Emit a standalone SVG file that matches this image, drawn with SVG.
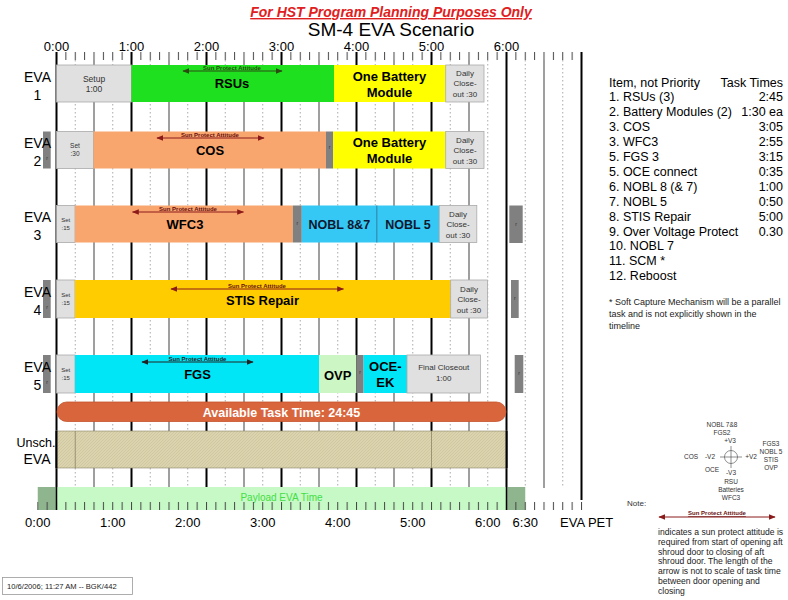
<svg xmlns="http://www.w3.org/2000/svg" width="788" height="600" viewBox="0 0 788 600">
<defs>
<style>
text{font-family:"Liberation Sans",Arial,sans-serif;fill:#000}
.ax{font-size:13px;text-anchor:middle}
.ev{font-size:14px;text-anchor:middle}
.big{font-size:13px;font-weight:bold;text-anchor:middle}
.sm{font-size:8px;text-anchor:middle;fill:#333}
.xs{font-size:6.5px;text-anchor:middle;fill:#333}
.sp{font-size:6px;font-weight:bold;text-anchor:middle}
.lst{font-size:12.5px}
.lr{font-size:12.5px;text-anchor:end}
.ft{font-size:9px;fill:#222}
.cp{font-size:6.5px;text-anchor:middle;fill:#333}
.gray{fill:#e0e0e0;stroke:#aaa;stroke-width:0.8}
.rb{fill:#808080}
.hr{stroke:#000;stroke-width:2}
.hh{stroke:#777;stroke-width:1.4}
.qt{stroke:#aaa;stroke-width:1;stroke-dasharray:1.5 2.5}
</style>
<pattern id="tk" x="56" y="0" width="9.375" height="10" patternUnits="userSpaceOnUse"><rect x="0" y="0" width="1" height="10" fill="#444"/></pattern>
<pattern id="tkb" x="37.25" y="0" width="9.375" height="10" patternUnits="userSpaceOnUse"><rect x="0" y="0" width="1" height="10" fill="#444"/></pattern>
<pattern id="hatch" width="3" height="3" patternUnits="userSpaceOnUse"><rect width="3" height="3" fill="#dad3ad"/><path d="M0,3 L3,0" stroke="#c9c199" stroke-width="0.6"/></pattern>
<marker id="arR" viewBox="0 0 10 10" refX="9" refY="5" markerWidth="7" markerHeight="7" orient="auto-start-reverse" markerUnits="userSpaceOnUse"><path d="M0,1 L10,5 L0,9 z" fill="#8b1a1a"/></marker>
<marker id="arG" viewBox="0 0 10 10" refX="9" refY="5" markerWidth="7" markerHeight="7" orient="auto-start-reverse" markerUnits="userSpaceOnUse"><path d="M0,1 L10,5 L0,9 z" fill="#2b4a12"/></marker>
<marker id="arK" viewBox="0 0 10 10" refX="9" refY="5" markerWidth="7" markerHeight="7" orient="auto-start-reverse" markerUnits="userSpaceOnUse"><path d="M0,1 L10,5 L0,9 z" fill="#222"/></marker>
</defs>
<rect width="788" height="600" fill="#fff"/>

<g id="titles">
<text x="391" y="17" style="font-size:14px;font-weight:bold;font-style:italic;text-decoration:underline;text-anchor:middle;fill:#e02020">For HST Program Planning Purposes Only</text>
<text x="391" y="35.5" style="font-size:19px;text-anchor:middle">SM-4 EVA Scenario</text>
</g>

<g id="top-axis">
<rect x="56" y="52" width="527" height="8" fill="url(#tk)"/>
<text class="ax" x="56.5" y="51">0:00</text>
<text class="ax" x="131.5" y="51">1:00</text>
<text class="ax" x="206.5" y="51">2:00</text>
<text class="ax" x="281.5" y="51">3:00</text>
<text class="ax" x="356.5" y="51">4:00</text>
<text class="ax" x="431.5" y="51">5:00</text>
<text class="ax" x="506.5" y="51">6:00</text>
</g>

<g id="grid">
<path class="qt" d="M75.25,60V487M112.75,60V487M150.25,60V487M187.75,60V487M225.25,60V487M262.75,60V487M300.25,60V487M337.75,60V487M375.25,60V487M412.75,60V487M450.25,60V487M487.75,60V487M525.25,60V487M562.75,60V488"/>
<path class="hh" d="M94,60V487M169,60V487M244,60V487M319,60V487M394,60V487M469,60V487M544,60V488"/>
<path class="hr" d="M56.5,52V487M131.5,52V487M206.5,52V487M281.5,52V487M356.5,52V487M431.5,52V487M506.5,52V487M581.5,52V500"/>
</g>

<g id="eva1">
<text class="ev" x="37.5" y="82">EVA</text><text class="ev" x="37.5" y="100">1</text>
<rect class="gray" x="56.5" y="65" width="75" height="37"/>
<text class="sm" x="94" y="82" style="font-size:8.5px">Setup</text><text class="sm" x="94" y="92" style="font-size:8.5px">1:00</text>
<rect x="131.5" y="65" width="202.5" height="37" fill="#1ee01e"/>
<line x1="183" y1="71" x2="282" y2="71" stroke="#2b4a12" stroke-width="1" marker-start="url(#arG)" marker-end="url(#arG)"/>
<text class="sp" x="232" y="70" style="fill:#2b4a12">Sun Protect Attitude</text>
<text class="big" x="232" y="88">RSUs</text>
<rect x="334" y="65" width="111.7" height="37" fill="#ffff00"/>
<text class="big" x="389.5" y="81">One Battery</text><text class="big" x="389.5" y="97">Module</text>
<rect class="gray" x="445.7" y="65" width="38.3" height="37"/>
<text class="sm" x="465" y="76">Daily</text><text class="sm" x="465" y="86">Close-</text><text class="sm" x="465" y="97">out :30</text>
</g>

<g id="eva2">
<rect class="rb" x="43" y="131.5" width="7.7" height="37"/>
<text class="xs" x="47" y="160" style="font-size:5px">r</text>
<text class="ev" x="37.5" y="148">EVA</text><text class="ev" x="37.5" y="166">2</text>
<rect class="gray" x="56.5" y="131.5" width="37.1" height="37"/>
<text class="xs" x="75" y="148">Set</text><text class="xs" x="75" y="156">:30</text>
<rect x="93.6" y="131.5" width="232.4" height="37" fill="#f8a56e"/>
<line x1="157" y1="138" x2="264" y2="138" stroke="#8b1a1a" stroke-width="1" marker-start="url(#arR)" marker-end="url(#arR)"/>
<text class="sp" x="210" y="137" style="fill:#6b1010">Sun Protect Attitude</text>
<text class="big" x="210" y="155">COS</text>
<rect class="rb" x="326" y="131.5" width="7.2" height="37"/>
<text class="xs" x="329.6" y="149" style="font-size:5px">r</text>
<rect x="333.2" y="131.5" width="112.5" height="37" fill="#ffff00"/>
<text class="big" x="389.5" y="147">One Battery</text><text class="big" x="389.5" y="163">Module</text>
<rect class="gray" x="445.7" y="131.5" width="38.3" height="37"/>
<text class="sm" x="465" y="142.5">Daily</text><text class="sm" x="465" y="152.5">Close-</text><text class="sm" x="465" y="163.5">out :30</text>
</g>

<g id="eva3">
<text class="ev" x="37.5" y="222">EVA</text><text class="ev" x="37.5" y="240">3</text>
<rect class="gray" x="56.5" y="205.5" width="18.5" height="37"/>
<text class="xs" x="65.7" y="222" style="font-size:6px">Set</text><text class="xs" x="65.7" y="230" style="font-size:6px">:15</text>
<rect x="75" y="205.5" width="217.9" height="37" fill="#f8a56e"/>
<line x1="132.5" y1="212" x2="243.5" y2="212" stroke="#8b1a1a" stroke-width="1" marker-start="url(#arR)" marker-end="url(#arR)"/>
<text class="sp" x="188" y="211" style="fill:#6b1010">Sun Protect Attitude</text>
<text class="big" x="185" y="229">WFC3</text>
<rect class="rb" x="292.9" y="205.5" width="8.9" height="37"/>
<text class="xs" x="297.3" y="225" style="font-size:5px">r</text>
<rect x="301.8" y="205.5" width="75" height="37" fill="#35c8f4"/>
<rect x="376.8" y="205.5" width="62.5" height="37" fill="#35c8f4"/>
<line x1="376.8" y1="205.5" x2="376.8" y2="242.5" stroke="#1a6a8a" stroke-width="0.8"/>
<text class="big" x="339.3" y="229" style="fill:#101830;font-size:12.5px">NOBL 8&amp;7</text>
<text class="big" x="408" y="229" style="fill:#101830;font-size:12.5px">NOBL 5</text>
<rect class="gray" x="439.3" y="205.5" width="37.5" height="37"/>
<text class="sm" x="458" y="217">Daily</text><text class="sm" x="458" y="227">Close-</text><text class="sm" x="458" y="238">out :30</text>
<rect class="rb" x="509.3" y="205.5" width="13.4" height="37.5"/>
<text class="xs" x="516" y="226" style="font-size:5px">r</text>
</g>

<g id="eva4">
<rect class="rb" x="43" y="280" width="7.7" height="38"/>
<text class="xs" x="47" y="309" style="font-size:5px">r</text>
<text class="ev" x="37.5" y="297">EVA</text><text class="ev" x="37.5" y="315">4</text>
<rect class="gray" x="56.5" y="280" width="18.5" height="38"/>
<text class="xs" x="65.7" y="297" style="font-size:6px">Set</text><text class="xs" x="65.7" y="305" style="font-size:6px">:15</text>
<rect x="75" y="280" width="375.7" height="38" fill="#ffcc00"/>
<line x1="171" y1="289" x2="343.5" y2="289" stroke="#8b1a1a" stroke-width="1" marker-start="url(#arR)" marker-end="url(#arR)"/>
<text class="sp" x="257" y="288" style="fill:#6b1010">Sun Protect Attitude</text>
<text class="big" x="262.5" y="305">STIS Repair</text>
<rect class="gray" x="450.7" y="280" width="36.8" height="38"/>
<text class="sm" x="469" y="292">Daily</text><text class="sm" x="469" y="302">Close-</text><text class="sm" x="469" y="313">out :30</text>
<rect class="rb" x="511" y="280" width="7.7" height="38"/>
<text class="xs" x="514.8" y="300" style="font-size:5px">r</text>
</g>

<g id="eva5">
<rect class="rb" x="43" y="355" width="7.7" height="38"/>
<text class="xs" x="47" y="384" style="font-size:5px">r</text>
<text class="ev" x="37.5" y="372">EVA</text><text class="ev" x="37.5" y="390">5</text>
<rect class="gray" x="56.5" y="355" width="18.5" height="38"/>
<text class="xs" x="65.7" y="372" style="font-size:6px">Set</text><text class="xs" x="65.7" y="380" style="font-size:6px">:15</text>
<rect x="75" y="355" width="244" height="38" fill="#00e6f6"/>
<line x1="142" y1="362" x2="253" y2="362" stroke="#222" stroke-width="1" marker-start="url(#arK)" marker-end="url(#arK)"/>
<text class="sp" x="197.5" y="361" style="fill:#222">Sun Protect Attitude</text>
<text class="big" x="197.5" y="379">FGS</text>
<rect x="319" y="355" width="37.4" height="38" fill="#ccf7c4"/>
<text class="big" x="337.7" y="380">OVP</text>
<rect class="rb" x="356.4" y="355" width="7.2" height="38"/>
<text class="xs" x="360" y="374" style="font-size:5px">r</text>
<rect x="363.6" y="355" width="43.4" height="38" fill="#00e6f6"/>
<text class="big" x="385.3" y="371">OCE-</text><text class="big" x="385.3" y="387">EK</text>
<rect class="gray" x="407" y="355" width="73.4" height="38"/>
<text class="sm" x="443.7" y="370">Final Closeout</text><text class="sm" x="443.7" y="381">1:00</text>
<rect class="rb" x="514.7" y="355" width="8.6" height="38"/>
<text class="xs" x="519" y="375" style="font-size:5px">r</text>
</g>

<g id="available">
<rect x="57" y="402" width="449" height="19.5" rx="9.7" fill="#d9653c" stroke="#c4532c" stroke-width="0.8"/>
<text x="281.5" y="416.5" style="font-size:12.5px;font-weight:bold;fill:#fff;text-anchor:middle">Available Task Time: 24:45</text>
</g>

<g id="unsch">
<text class="ev" x="36" y="447" style="font-size:12.5px">Unsch.</text><text class="ev" x="37" y="464">EVA</text>
<rect x="56.5" y="431" width="450" height="37" fill="url(#hatch)" stroke="#8a8468" stroke-width="0.6"/>
<path d="M75.25,431V468M431.5,431V468" stroke="#8a8468" stroke-width="0.8"/>
<path d="M56.5,431V468M506.5,431V468" stroke="#000" stroke-width="2"/>
</g>

<g id="payload">
<rect x="37.75" y="487" width="18.75" height="23" fill="#8fb58f"/>
<rect x="506.5" y="487" width="18.75" height="23" fill="#8fb58f"/>
<rect x="56.5" y="487" width="450" height="23" fill="#c6f9c6"/>
<text x="281.5" y="501" style="font-size:10px;fill:#44dd44;text-anchor:middle">Payload EVA Time</text>
<rect x="37.25" y="502" width="549" height="8" fill="url(#tkb)"/>
<path d="M56.5,487V510M506.5,487V510" stroke="#000" stroke-width="1.5"/>
</g>

<g id="bottom-axis">
<text class="ax" x="37.75" y="527">0:00</text>
<text class="ax" x="112.75" y="527">1:00</text>
<text class="ax" x="187.75" y="527">2:00</text>
<text class="ax" x="262.75" y="527">3:00</text>
<text class="ax" x="337.75" y="527">4:00</text>
<text class="ax" x="412.75" y="527">5:00</text>
<text class="ax" x="487.75" y="527">6:00</text>
<text class="ax" x="525.25" y="527">6:30</text>
<text x="560" y="527" style="font-size:13px">EVA PET</text>
</g>

<g id="task-list">
<text class="lst" x="609" y="86.5">Item, not Priority</text><text class="lr" x="783" y="86.5">Task Times</text>
<text class="lst" x="609" y="101.4">1. RSUs (3)</text><text class="lr" x="783" y="101.4">2:45</text>
<text class="lst" x="609" y="116.3">2. Battery Modules (2)</text><text class="lr" x="783" y="116.3">1:30 ea</text>
<text class="lst" x="609" y="131.2">3. COS</text><text class="lr" x="783" y="131.2">3:05</text>
<text class="lst" x="609" y="146.1">3. WFC3</text><text class="lr" x="783" y="146.1">2:55</text>
<text class="lst" x="609" y="161">5. FGS 3</text><text class="lr" x="783" y="161">3:15</text>
<text class="lst" x="609" y="175.9">5. OCE connect</text><text class="lr" x="783" y="175.9">0:35</text>
<text class="lst" x="609" y="190.8">6. NOBL 8 (&amp; 7)</text><text class="lr" x="783" y="190.8">1:00</text>
<text class="lst" x="609" y="205.7">7. NOBL 5</text><text class="lr" x="783" y="205.7">0:50</text>
<text class="lst" x="609" y="220.6">8. STIS Repair</text><text class="lr" x="783" y="220.6">5:00</text>
<text class="lst" x="609" y="235.5">9. Over Voltage Protect</text><text class="lr" x="783" y="235.5">0.30</text>
<text class="lst" x="609" y="250.4">10. NOBL 7</text>
<text class="lst" x="609" y="265.3">11. SCM *</text>
<text class="lst" x="609" y="280.2">12. Reboost</text>
<text class="ft" x="609" y="305">* Soft Capture Mechanism will be a parallel</text>
<text class="ft" x="609" y="317">task and is not explicitly shown in the</text>
<text class="ft" x="609" y="329">timeline</text>
</g>

<g id="compass">
<text class="cp" x="722" y="427">NOBL 7&amp;8</text>
<text class="cp" x="722" y="435">FGS2</text>
<text class="cp" x="730" y="443">+V3</text>
<circle cx="731" cy="457" r="6.5" fill="none" stroke="#444" stroke-width="0.6"/>
<path d="M720,457H742M731,446V468" stroke="#444" stroke-width="0.6"/>
<text class="cp" x="691" y="459">COS</text>
<text class="cp" x="710" y="459">-V2</text>
<text class="cp" x="751" y="459">+V2</text>
<text class="cp" x="771" y="446">FGS3</text>
<text class="cp" x="771" y="454">NOBL 5</text>
<text class="cp" x="771" y="462">STIS</text>
<text class="cp" x="771" y="470">OVP</text>
<text class="cp" x="712" y="472">OCE</text>
<text class="cp" x="731" y="475">-V3</text>
<text class="cp" x="731" y="484">RSU</text>
<text class="cp" x="731" y="492">Batteries</text>
<text class="cp" x="731" y="500">WFC3</text>
</g>

<g id="note">
<text x="627" y="506" style="font-size:8px;fill:#333">Note:</text>
<line x1="659" y1="517" x2="775" y2="517" stroke="#8b1a1a" stroke-width="1" marker-start="url(#arR)" marker-end="url(#arR)"/>
<text class="sp" x="717" y="515" style="fill:#6b1010;text-decoration:underline">Sun Protect Attitude</text>
<text class="ft" x="658" y="535" style="font-size:8.6px">indicates a sun protect attitude is</text>
<text class="ft" x="658" y="544.8" style="font-size:8.6px">required from start of opening aft</text>
<text class="ft" x="658" y="554.6" style="font-size:8.6px">shroud door to closing of aft</text>
<text class="ft" x="658" y="564.4" style="font-size:8.6px">shroud door.  The length of the</text>
<text class="ft" x="658" y="574.2" style="font-size:8.6px">arrow is not to scale of task time</text>
<text class="ft" x="658" y="584" style="font-size:8.6px">between door opening and</text>
<text class="ft" x="658" y="593.8" style="font-size:8.6px">closing</text>
</g>

<g id="stamp">
<rect x="2.5" y="577.5" width="130" height="17" fill="#fff" stroke="#999" stroke-width="0.8"/>
<text x="7" y="589" style="font-size:7.6px;fill:#222">10/6/2006; 11:27 AM -- BGK/442</text>
</g>
</svg>
